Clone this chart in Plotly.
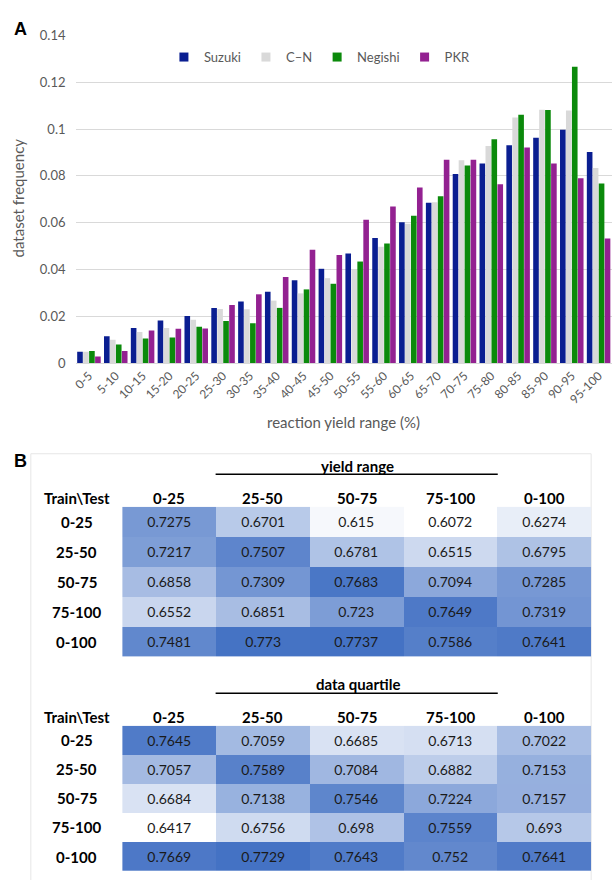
import plotly.graph_objects as go

W, H = 613, 880

# ---------------- data ----------------
yield_ranges = ["0-5", "5-10", "10-15", "15-20", "20-25", "25-30", "30-35", "35-40", "40-45", "45-50",
                "50-55", "55-60", "60-65", "65-70", "70-75", "75-80", "80-85", "85-90", "90-95", "95-100"]
suzuki = [0.0049, 0.0115, 0.0150, 0.0182, 0.0201, 0.0235, 0.0263, 0.0305, 0.0354, 0.0403,
          0.0468, 0.0535, 0.0602, 0.0685, 0.0808, 0.0853, 0.0931, 0.0963, 0.0997, 0.0902]
cn = [0.0049, 0.0100, 0.0133, 0.0150, 0.0185, 0.0231, 0.0230, 0.0267, 0.0298, 0.0363,
      0.0399, 0.0497, 0.0595, 0.0687, 0.0867, 0.0928, 0.1049, 0.1082, 0.1079, 0.0834]
negishi = [0.0052, 0.0080, 0.0105, 0.0110, 0.0155, 0.0180, 0.0170, 0.0236, 0.0315, 0.0339,
           0.0434, 0.0511, 0.0630, 0.0713, 0.0844, 0.0956, 0.1061, 0.1081, 0.1266, 0.0767]
pkr = [0.0028, 0.0052, 0.0139, 0.0147, 0.0148, 0.0248, 0.0294, 0.0368, 0.0484, 0.0462,
       0.0613, 0.0669, 0.0750, 0.0869, 0.0869, 0.0764, 0.0921, 0.0853, 0.0790, 0.0532]

series_names = ["Suzuki", "C\u2013N", "Negishi", "PKR"]
series_colors = ["#0a1e91", "#d9d9d9", "#0b8a0b", "#932191"]

table_cols = ["0-25", "25-50", "50-75", "75-100", "0-100"]
table_rows = ["0-25", "25-50", "50-75", "75-100", "0-100"]
yield_range_table = [
    [0.7275, 0.6701, 0.615, 0.6072, 0.6274],
    [0.7217, 0.7507, 0.6781, 0.6515, 0.6795],
    [0.6858, 0.7309, 0.7683, 0.7094, 0.7285],
    [0.6552, 0.6851, 0.723, 0.7649, 0.7319],
    [0.7481, 0.773, 0.7737, 0.7586, 0.7641],
]
data_quartile_table = [
    [0.7645, 0.7059, 0.6685, 0.6713, 0.7022],
    [0.7057, 0.7589, 0.7084, 0.6882, 0.7153],
    [0.6684, 0.7138, 0.7546, 0.7224, 0.7157],
    [0.6417, 0.6756, 0.698, 0.7559, 0.693],
    [0.7669, 0.7729, 0.7643, 0.752, 0.7641],
]

FONT = "Lato, 'Open Sans', sans-serif"
GRAY = "#595959"


def px_x(x):
    return x / W


def px_y(y):
    return 1 - y / H


fig = go.Figure()

# ---------------- panel A: bars ----------------
for name, vals, col in zip(series_names, [suzuki, cn, negishi, pkr], series_colors):
    fig.add_trace(go.Bar(x=yield_ranges, y=vals, name=name, marker=dict(color=col, line=dict(width=0)),
                         xaxis="x", yaxis="y", showlegend=False, legendgroup=name))
# legend entries with small square swatches (as in the original)
for name, col in zip(series_names, series_colors):
    fig.add_trace(go.Scatter(x=[None], y=[None], mode="markers", name=name, legendgroup=name,
                             marker=dict(symbol="square", size=9, color=col), xaxis="x", yaxis="y",
                             hoverinfo="skip"))

# ---------------- panel B: heatmap tables ----------------
blue_scale = [[0, "#ffffff"], [1, "#4472c4"]]
for tbl, xa, ya in [(yield_range_table, "x2", "y2"), (data_quartile_table, "x3", "y3")]:
    flat = [v for r in tbl for v in r]
    fig.add_trace(go.Heatmap(
        z=tbl, x=table_cols, y=table_rows,
        text=[[f"{v:g}" for v in r] for r in tbl],
        texttemplate="%{text}",
        textfont=dict(family=FONT, size=14, color="#1a1a1a"),
        colorscale=blue_scale, zmin=min(flat), zmax=max(flat),
        showscale=False, hoverinfo="skip", xgap=0, ygap=0,
        xaxis=xa, yaxis=ya, showlegend=False,
    ))

bar_dom_y = [px_y(361.7), px_y(27.7)]
t1_top, t1_bot = 508, 660.5
t2_top = 731

hidden = dict(showticklabels=False, showgrid=False, zeroline=False, showline=False, ticks="")

fig.update_layout(
    width=W, height=H, autosize=False,
    margin=dict(l=0, r=0, t=0, b=0),
    paper_bgcolor="white", plot_bgcolor="white",
    font=dict(family=FONT, color=GRAY),
    barmode="group", bargap=0.11, bargroupgap=0.06,
    showlegend=True,
    legend=dict(orientation="h", x=px_x(318), xanchor="center", y=px_y(50), yanchor="middle",
                font=dict(size=13, color=GRAY, family=FONT), bgcolor="rgba(0,0,0,0)",
                itemwidth=30, tracegroupgap=0),
    xaxis=dict(domain=[px_x(72), px_x(612)], tickangle=-45, tickfont=dict(size=12, color=GRAY),
               showgrid=False, showline=True, linecolor="#d9d9d9", ticks="", anchor="y"),
    yaxis=dict(domain=bar_dom_y, range=[0, 0.1401], dtick=0.02, showgrid=True, gridcolor="#d9d9d9",
               gridwidth=1, zeroline=False, tickfont=dict(size=13, color=GRAY), ticks="",
               ticklabelstandoff=9, anchor="x"),
    xaxis2=dict(domain=[px_x(119), px_x(591)], range=[-0.5, 4.5], anchor="y2", **hidden),
    yaxis2=dict(domain=[px_y(t1_bot), px_y(t1_top)], range=[4.5, -0.5], anchor="x2", **hidden),
    xaxis3=dict(domain=[px_x(119), px_x(591)], range=[-0.5, 4.5], anchor="y3", **hidden),
    yaxis3=dict(domain=[0, px_y(t2_top)], range=[4.53, -0.5], anchor="x3", **hidden),
)

C = dict(showarrow=False, xanchor="center", yanchor="middle")
ann = []
# panel letters
ann.append(dict(text="<b>A</b>", x=px_x(17), y=px_y(21), xref="paper", yref="paper",
                font=dict(size=18, color="black", family="Arial"), **C))
ann.append(dict(text="<b>B</b>", x=px_x(17), y=px_y(461), xref="paper", yref="paper",
                font=dict(size=18, color="black", family="Arial"), **C))
# axis titles
ann.append(dict(text="dataset frequency", x=px_x(15), y=px_y(193), xref="paper", yref="paper",
                textangle=-90, font=dict(size=15, color=GRAY), **C))
ann.append(dict(text="reaction yield range (%)", x=px_x(342), y=px_y(422), xref="paper", yref="paper",
                font=dict(size=15, color=GRAY), **C))

# table headers
for title, ty, hy, xa, ya in [("yield range", 466, 499, "x2", "y2"), ("data quartile", 689, 722, "x3", "y3")]:
    ann.append(dict(text=f"<b>{title}</b>", x=px_x(356), y=px_y(ty), xref="paper", yref="paper",
                    font=dict(size=15, color="black"), **C))
    ann.append(dict(text="<b>Train\\Test</b>", x=px_x(73), y=px_y(hy), xref="paper", yref="paper",
                    font=dict(size=15, color="black"), **C))
    for c in table_cols:
        ann.append(dict(text=f"<b>{c}</b>", x=c, xref=xa, y=px_y(hy), yref="paper",
                        font=dict(size=15, color="black"), **C))
    for r in table_rows:
        ann.append(dict(text=f"<b>{r}</b>", x=px_x(73), xref="paper", y=r, yref=ya,
                        font=dict(size=15, color="black"), **C))

fig.update_layout(annotations=ann)

shapes = [
    dict(type="rect", xref="paper", yref="paper", x0=px_x(27), x1=px_x(591), y0=-0.02, y1=px_y(454),
         line=dict(color="#e6e6e6", width=1), fillcolor="rgba(0,0,0,0)", layer="below"),
    dict(type="line", xref="paper", yref="paper", x0=px_x(213), x1=px_x(497), y0=px_y(475), y1=px_y(475),
         line=dict(color="black", width=1.5)),
    dict(type="line", xref="paper", yref="paper", x0=px_x(213), x1=px_x(497), y0=px_y(698), y1=px_y(698),
         line=dict(color="black", width=1.5)),
]
fig.update_layout(shapes=shapes)

POST = ("var d=document.getElementById('{plot_id}');"
        "d.style.position='fixed';d.style.top='0px';d.style.left='0px';"
        "document.body.style.margin='0';document.body.style.overflow='hidden';"
        "document.documentElement.style.overflow='hidden';")

fig.write_html("out.html", config={"displayModeBar": False}, post_script=POST)
